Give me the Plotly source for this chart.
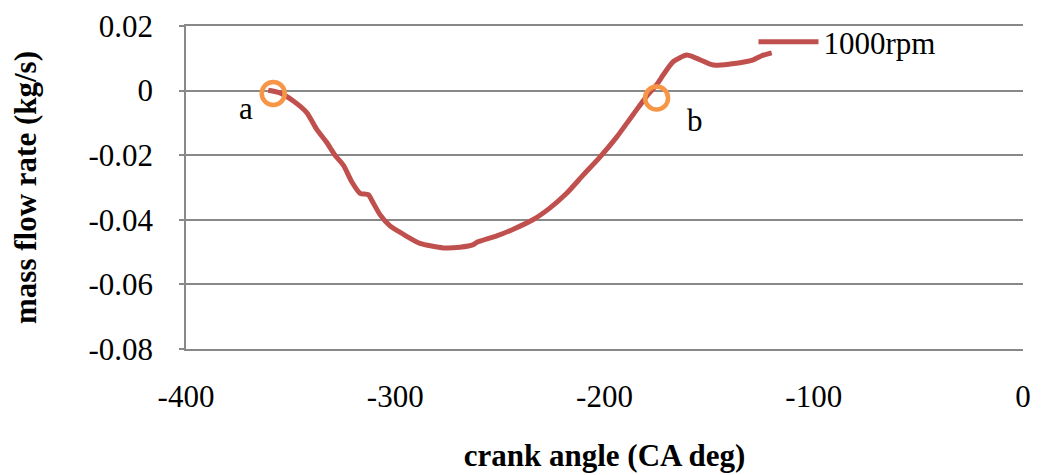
import plotly.graph_objects as go

crank_angle = [-360.7, -355.1, -348.7, -342.3, -337.6, -332.8, -328.8, -324.8, -320.8, -316.8,
               -312.9, -310.5, -307.3, -302.5, -296.1, -288.2, -277.0, -269.1, -262.7, -261.1,
               -251.5, -243.6, -234.0, -226.0, -218.1, -210.1, -202.2, -194.2, -186.2, -179.8,
               -175.1, -171.9, -167.1, -160.7, -155.9, -148.0, -140.0, -132.0, -128.9, -124.9, -120.1]
mass_flow = [0.0001, -0.0007, -0.0032, -0.0068, -0.0119, -0.0160, -0.0200, -0.0231, -0.0282, -0.0318,
             -0.0322, -0.0348, -0.0384, -0.0419, -0.0445, -0.0473, -0.0487, -0.0485, -0.0477, -0.0470,
             -0.0450, -0.0429, -0.0399, -0.0363, -0.0318, -0.0261, -0.0206, -0.0144, -0.0073, -0.0017,
             0.0018, 0.0049, 0.0090, 0.0110, 0.0100, 0.0079, 0.0082, 0.0090, 0.0095, 0.0108, 0.0117]

marker_x = [-358.3, -175.1]
marker_y = [-0.0009, -0.0023]
label_text = ["a", "b"]
label_x = [-371.3, -156.7]
label_y = [-0.0056, -0.0093]

x_ticks = [-400, -300, -200, -100, 0]
x_tick_text = ["\u2010400", "\u2010300", "\u2010200", "\u2010100", "0"]
y_ticks = [0.02, 0, -0.02, -0.04, -0.06, -0.08]
y_tick_text = ["0.02", "0", "\u20100.02", "\u20100.04", "\u20100.06", "\u20100.08"]

FONT = "Liberation Serif, Times New Roman, serif"
GRID = "#888888"
FS = 31

fig = go.Figure()
fig.add_trace(go.Scatter(x=crank_angle, y=mass_flow, mode="lines", name="1000rpm",
                         line=dict(color="#C0504D", width=5, shape="spline", smoothing=0.6)))
fig.add_trace(go.Scatter(x=marker_x, y=marker_y, mode="markers", showlegend=False,
                         marker=dict(symbol="circle-open", size=23, color="#F79646",
                                     line=dict(width=4.5, color="#F79646"))))
for t, x, y in zip(label_text, label_x, label_y):
    fig.add_annotation(x=x, y=y, text=t, showarrow=False,
                       font=dict(family=FONT, size=FS, color="black"))

fig.update_layout(
    width=1033, height=467,
    margin=dict(l=178, r=18, t=18, b=126, autoexpand=False),
    plot_bgcolor="white", paper_bgcolor="white",
    font=dict(family=FONT, size=FS, color="black"),
    legend=dict(x=0.678, y=0.95, xanchor="left", yanchor="middle",
                bgcolor="rgba(0,0,0,0)", font=dict(family=FONT, size=FS, color="black"),
                itemwidth=60),
    showlegend=True,
)
fig.update_xaxes(range=[-400, 0], tickvals=x_ticks, ticktext=x_tick_text,
                 showgrid=False, zeroline=False, showline=True, linecolor=GRID, linewidth=1.5,
                 mirror=True,
                 ticks="", ticklabelstandoff=19, automargin=False, ticklabeloverflow="allow",
                 title=dict(text="<b>crank angle (CA deg)</b>", font=dict(family=FONT, size=FS),
                            standoff=31))
fig.update_yaxes(range=[-0.08, 0.02], tickvals=y_ticks, ticktext=y_tick_text,
                 showgrid=True, gridcolor=GRID, gridwidth=1.5, zeroline=False,
                 showline=True, linecolor=GRID, linewidth=1.5,
                 ticks="outside", ticklen=5, tickcolor=GRID, tickwidth=1.5,
                 ticklabelstandoff=20, automargin=False, ticklabeloverflow="allow",
                 title=dict(text="<b>mass flow rate (kg/s)</b>", font=dict(family=FONT, size=FS),
                            standoff=46))

fig.write_html("out.html")
